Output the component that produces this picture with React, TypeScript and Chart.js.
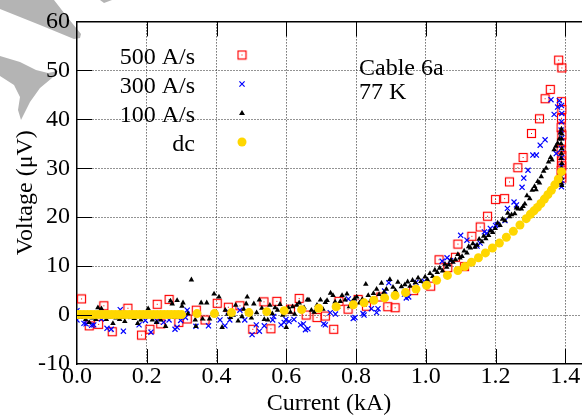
import React, { useEffect, useRef } from 'react';
import { Chart, registerables } from 'chart.js';

Chart.register(...registerables);

const FONT = '"Liberation Serif", "Times New Roman", serif';

const seriesLabels = ['500 A/s', '300 A/s', '100 A/s', 'dc'];
const annotationLines = ['Cable 6a', '77 K'];
const xTitle = 'Current (kA)';
const yTitle = 'Voltage (\u03bcV)';
const xTickValues = [0.0, 0.2, 0.4, 0.6, 0.8, 1.0, 1.2, 1.4];
const yTickValues = [-10, 0, 10, 20, 30, 40, 50, 60];

const rate500: number[][] = [
  [0.013, 3.3], [0.035, -2.2], [0.062, -1.9], [0.077, 1.9], [0.101, -3.4], [0.146, 1.4], [0.185, -4.1],
  [0.209, -2.9], [0.230, 2.2], [0.240, -1.8], [0.264, 3.2], [0.292, -1.5], [0.316, -0.8], [0.342, 1.0],
  [0.367, -1.0], [0.402, 2.4], [0.434, 1.6], [0.467, 1.9], [0.504, -2.9], [0.536, 2.7], [0.556, -2.8],
  [0.573, 2.8], [0.612, 1.2], [0.637, 3.4], [0.657, 0.0], [0.688, -0.5], [0.712, -0.2], [0.736, -2.9],
  [0.751, 2.8], [0.777, 1.2], [0.806, 3.2], [0.830, 1.8], [0.871, 3.7], [0.891, 1.7], [0.912, 1.5],
  [0.965, 5.0], [1.014, 5.9], [1.038, 11.3], [1.063, 9.7], [1.085, 11.8], [1.092, 14.5], [1.111, 9.9],
  [1.132, 16.1], [1.156, 18.0], [1.177, 20.2], [1.200, 23.6], [1.226, 23.8], [1.240, 27.2], [1.264, 30.1],
  [1.279, 32.2], [1.303, 37.1], [1.326, 40.1], [1.342, 44.2], [1.357, 46.1], [1.381, 52.1], [1.390, 50.5],
  [1.389, 43.6], [1.390, 42.0], [1.389, 40.2], [1.388, 38.3], [1.390, 36.8], [1.389, 35.2], [1.388, 33.9],
  [1.390, 32.6], [1.389, 31.5], [1.390, 30.5], [1.388, 29.6], [1.389, 28.8], [1.390, 28.0],
];

const rate300: number[][] = [
  [0.000, 0.9], [0.000, -1.0], [0.020, -1.7], [0.026, -1.8], [0.042, -2.1], [0.048, -2.0], [0.070, -0.8],
  [0.086, -2.7], [0.098, -2.9], [0.124, 1.1], [0.133, -3.3], [0.155, -0.3], [0.178, -2.0], [0.196, -1.1],
  [0.212, -3.5], [0.229, -1.2], [0.248, -1.5], [0.264, -1.0], [0.281, -2.9], [0.287, -2.5], [0.297, -1.1],
  [0.311, -0.5], [0.316, 1.0], [0.341, -2.3], [0.377, -2.2], [0.396, 0.3], [0.410, -1.0], [0.424, -2.2],
  [0.434, 0.7], [0.438, -1.0], [0.467, 1.0], [0.481, -1.0], [0.502, -4.0], [0.514, -2.0], [0.523, -3.3],
  [0.537, -2.2], [0.561, -1.0], [0.564, -0.3], [0.585, -2.0], [0.594, -1.5], [0.599, -0.9], [0.608, -1.3],
  [0.622, -0.9], [0.641, -2.0], [0.649, -1.8], [0.655, -3.0], [0.662, -2.8], [0.707, -1.8], [0.712, -2.0],
  [0.726, 0.5], [0.741, 0.2], [0.778, 3.3], [0.792, -0.7], [0.797, -0.5], [0.820, 0.3], [0.823, 0.0],
  [0.844, 1.3], [0.863, 1.3], [0.859, 0.5], [0.882, 4.9], [0.894, 6.6], [0.939, 4.3], [0.944, 3.5],
  [0.951, 3.7], [0.972, 6.7], [0.996, 6.9], [1.047, 11.0], [1.061, 11.7], [1.071, 11.1], [1.100, 16.3],
  [1.118, 15.3], [1.147, 14.1], [1.156, 14.7], [1.168, 17.0], [1.175, 16.7], [1.185, 17.7], [1.200, 18.3],
  [1.205, 18.5], [1.227, 19.3], [1.234, 21.8], [1.253, 23.1], [1.260, 22.5], [1.276, 26.1], [1.281, 28.0],
  [1.293, 29.6], [1.307, 32.7], [1.317, 32.7], [1.328, 34.7], [1.342, 35.8], [1.359, 44.0], [1.368, 41.0],
  [1.374, 33.0], [1.378, 42.5], [1.383, 43.8],
  [1.389, 42.8], [1.390, 41.2], [1.389, 39.5], [1.388, 37.8], [1.390, 36.2], [1.389, 34.0], [1.390, 32.2],
  [1.389, 30.4], [1.388, 29.0], [1.390, 27.5], [1.389, 26.2],
];

const rate100: number[][] = [
  [0.010, -0.5], [0.018, -0.2], [0.025, -0.9], [0.035, -1.5], [0.045, -0.6], [0.054, -0.9], [0.060, 1.5],
  [0.070, 1.3], [0.078, -0.3], [0.084, -0.9], [0.095, -0.4], [0.103, -1.7], [0.112, -0.6], [0.122, -0.9],
  [0.133, -0.5], [0.137, -1.3], [0.143, 0.0], [0.155, -0.4], [0.164, -0.7], [0.174, -1.7], [0.183, -1.0],
  [0.194, -0.3], [0.204, 1.3], [0.216, -1.0], [0.228, -1.5], [0.240, -1.0], [0.246, -0.2], [0.254, -2.3],
  [0.268, 2.9], [0.273, 2.3], [0.280, -0.5], [0.287, 3.0], [0.301, 1.8], [0.304, 2.5], [0.318, 0.3],
  [0.328, 7.2], [0.339, -1.0], [0.341, -2.3], [0.348, 0.2], [0.356, 2.5], [0.360, -0.8], [0.372, 2.5],
  [0.380, -0.8], [0.393, 4.3], [0.400, 0.5], [0.407, 3.7], [0.416, -2.5],
  [0.425, 1.0], [0.432, 0.2], [0.440, -0.5], [0.448, 0.0], [0.455, 2.0], [0.462, -1.2], [0.473, -0.3],
  [0.478, 1.2], [0.485, 2.3], [0.488, 3.7], [0.495, 0.8], [0.500, -0.6], [0.507, 2.3], [0.515, 0.5],
  [0.523, 3.1], [0.530, 1.4], [0.537, -0.9], [0.542, 0.8], [0.547, -1.0], [0.553, 2.0], [0.560, 0.3],
  [0.568, 1.5], [0.575, 1.0], [0.582, 2.2], [0.590, 0.0], [0.600, -2.5], [0.606, 1.5], [0.612, 0.6],
  [0.618, 1.7], [0.624, 0.2], [0.630, 2.0], [0.637, 2.5], [0.644, 0.8], [0.651, 1.5], [0.660, 3.1],
  [0.665, 3.1], [0.672, 1.0], [0.680, 0.6], [0.688, 2.0], [0.698, 3.1], [0.705, 1.2], [0.712, 2.6],
  [0.717, 3.0], [0.727, 4.5], [0.734, 4.0], [0.740, 2.7], [0.748, 1.6], [0.755, 2.8], [0.760, 4.0],
  [0.769, 3.1], [0.774, 4.3], [0.781, 1.7], [0.790, 2.8], [0.796, 3.3], [0.802, 3.7], [0.810, 2.5],
  [0.818, 3.2], [0.828, 6.3], [0.835, 4.0], [0.842, 3.0], [0.850, 4.4],
  [0.859, 5.3], [0.866, 4.2], [0.873, 6.5], [0.880, 4.6], [0.887, 5.3], [0.897, 7.3], [0.906, 5.7],
  [0.913, 5.0], [0.920, 6.7], [0.930, 5.8], [0.940, 6.2], [0.948, 6.8], [0.955, 5.9], [0.962, 7.1],
  [0.970, 6.6], [0.978, 7.6], [0.986, 6.9], [0.998, 7.8], [1.005, 7.2], [1.012, 8.5], [1.020, 7.9],
  [1.026, 9.2], [1.033, 8.7], [1.040, 9.6], [1.048, 9.0], [1.055, 10.4], [1.060, 9.8], [1.066, 10.3],
  [1.072, 11.2], [1.078, 10.8], [1.085, 11.3], [1.092, 12.4], [1.098, 11.7], [1.104, 12.0], [1.110, 13.1],
  [1.118, 12.7], [1.123, 14.0], [1.128, 13.7], [1.135, 14.6], [1.141, 13.9], [1.147, 14.3], [1.153, 15.5],
  [1.161, 15.0], [1.166, 16.1], [1.172, 15.6], [1.180, 16.3], [1.186, 17.2], [1.192, 16.9], [1.199, 17.7],
  [1.206, 18.8], [1.213, 18.3], [1.220, 19.6], [1.227, 19.3], [1.235, 20.8], [1.240, 20.1], [1.246, 20.5],
  [1.255, 20.7], [1.260, 21.9], [1.265, 21.7], [1.274, 21.7], [1.279, 22.2], [1.284, 22.7], [1.290, 24.4],
  [1.298, 23.8], [1.305, 25.5], [1.312, 26.3], [1.316, 25.6], [1.321, 27.3], [1.326, 27.0], [1.331, 28.3],
  [1.338, 29.4], [1.345, 30.0], [1.352, 31.3], [1.358, 32.2], [1.362, 31.7], [1.368, 33.8], [1.373, 34.5],
  [1.378, 35.1], [1.383, 36.0], [1.386, 37.2],
  [1.389, 38.0], [1.390, 37.0], [1.389, 36.0], [1.388, 35.0], [1.390, 34.0], [1.389, 33.0], [1.388, 32.0],
  [1.390, 31.0], [1.389, 30.0], [1.390, 29.0], [1.389, 28.0], [1.388, 27.0], [1.390, 26.5],
];

const dcSeries: number[][] = [
  [0.00, 0.1], [0.01, 0.1], [0.02, 0.1], [0.03, 0.1], [0.04, 0.1], [0.05, 0.1], [0.06, 0.1], [0.07, 0.1],
  [0.08, 0.1], [0.09, 0.1], [0.10, 0.1], [0.11, 0.1], [0.12, 0.1], [0.13, 0.1], [0.14, 0.1], [0.15, 0.1],
  [0.16, 0.1], [0.17, 0.1], [0.18, 0.1], [0.19, 0.1], [0.20, 0.1], [0.21, 0.1], [0.22, 0.1], [0.23, 0.1],
  [0.24, 0.1], [0.25, 0.1], [0.26, 0.1], [0.27, 0.1], [0.28, 0.1], [0.29, 0.1], [0.30, 0.1],
  [0.344, 0.3], [0.394, 0.3], [0.443, 0.5], [0.493, 0.5], [0.544, 0.7], [0.594, 0.9], [0.644, 1.1],
  [0.693, 1.4], [0.743, 1.7], [0.792, 2.1], [0.823, 2.5], [0.851, 3.0], [0.882, 3.5], [0.912, 4.0],
  [0.942, 4.6], [0.972, 5.3], [1.002, 6.1], [1.031, 7.1], [1.062, 8.1], [1.092, 9.1], [1.112, 9.9],
  [1.131, 10.8], [1.151, 11.7], [1.171, 12.7], [1.191, 13.7], [1.211, 14.7], [1.231, 15.9], [1.251, 17.1],
  [1.270, 18.4], [1.288, 19.7], [1.300, 20.6], [1.310, 21.3], [1.320, 22.0], [1.330, 22.8], [1.340, 23.7],
  [1.350, 24.6], [1.360, 25.5], [1.370, 26.6], [1.380, 27.8], [1.389, 29.3],
];

const RED = 'rgb(255,0,0)';
const BLUE = 'rgb(0,0,255)';
const BLACK = 'rgb(0,0,0)';
const GOLD = 'rgb(255,215,0)';

function makeSquare(): HTMLCanvasElement {
  const c = document.createElement('canvas');
  c.width = 11;
  c.height = 11;
  const g = c.getContext('2d')!;
  g.strokeStyle = RED;
  g.lineWidth = 1.2;
  g.strokeRect(1.5, 1.5, 8, 8);
  g.fillStyle = RED;
  g.fillRect(5, 5, 1, 1);
  return c;
}

const toXY = (arr: number[][]) => arr.map(([x, y]) => ({ x, y }));

export default function App() {
  const ref = useRef<HTMLCanvasElement | null>(null);
  useEffect(() => {
    document.body.style.margin = '0';
    const canvas = ref.current;
    if (!canvas) return;
    const square = makeSquare();

    const drawMarker = (ctx: CanvasRenderingContext2D, i: number, x: number, y: number) => {
      ctx.save();
      if (i === 0) {
        ctx.drawImage(square, x - 5.5, y - 5.5);
      } else if (i === 1) {
        ctx.strokeStyle = BLUE;
        ctx.lineWidth = 1.2;
        const r = 2.6;
        ctx.beginPath();
        ctx.moveTo(x - r, y - r); ctx.lineTo(x + r, y + r);
        ctx.moveTo(x + r, y - r); ctx.lineTo(x - r, y + r);
        ctx.stroke();
      } else if (i === 2) {
        ctx.fillStyle = BLACK;
        ctx.beginPath();
        ctx.moveTo(x, y - 3);
        ctx.lineTo(x + 3, y + 2);
        ctx.lineTo(x - 3, y + 2);
        ctx.closePath();
        ctx.fill();
      } else {
        ctx.fillStyle = GOLD;
        ctx.beginPath();
        ctx.arc(x, y, 4.5, 0, Math.PI * 2);
        ctx.fill();
      }
      ctx.restore();
    };

    const decor = {
      id: 'decor',
      beforeDraw(chart: any) {
        const ctx = chart.ctx as CanvasRenderingContext2D;
        ctx.save();
        ctx.fillStyle = 'rgb(180,180,180)';
        ctx.beginPath();
        ctx.moveTo(0, 0); ctx.lineTo(54, 0); ctx.lineTo(68, 18); ctx.lineTo(81, 34);
        ctx.lineTo(80, 38); ctx.lineTo(74, 39); ctx.lineTo(40, 25); ctx.lineTo(0, 9);
        ctx.closePath();
        ctx.fill();
        ctx.beginPath();
        ctx.moveTo(100, 0); ctx.lineTo(112, 0); ctx.lineTo(104, 3);
        ctx.closePath();
        ctx.fill();
        ctx.beginPath();
        ctx.moveTo(0, 56); ctx.lineTo(20, 62); ctx.lineTo(36, 70); ctx.lineTo(48, 73);
        ctx.lineTo(58, 71); ctx.lineTo(52, 78); ctx.lineTo(40, 88); ctx.lineTo(30, 102);
        ctx.lineTo(21, 120); ctx.lineTo(18, 110); ctx.lineTo(20, 97); ctx.lineTo(14, 85);
        ctx.lineTo(0, 76);
        ctx.closePath();
        ctx.fill();
        ctx.restore();
      },
      afterDraw(chart: any) {
        const ctx = chart.ctx as CanvasRenderingContext2D;
        const a = chart.chartArea;
        const xs = chart.scales.x;
        const ys = chart.scales.y;
        ctx.save();
        ctx.strokeStyle = '#000';
        ctx.lineWidth = 1;
        ctx.beginPath();
        xs.ticks.forEach((t: any) => {
          if (t.value <= xs.min) return;
          const px = Math.round(xs.getPixelForValue(t.value)) + 0.5;
          ctx.moveTo(px, a.bottom); ctx.lineTo(px, a.bottom - 15);
          ctx.moveTo(px, a.top); ctx.lineTo(px, a.top + 15);
        });
        ys.ticks.forEach((t: any) => {
          if (t.value <= ys.min || t.value >= ys.max) return;
          const py = Math.round(ys.getPixelForValue(t.value)) + 0.5;
          ctx.moveTo(a.left, py); ctx.lineTo(a.left + 15, py);
        });
        ctx.stroke();

        ctx.fillStyle = '#000';
        ctx.font = '24px ' + FONT;
        ctx.textBaseline = 'alphabetic';
        ctx.textAlign = 'right';
        const baseY = 64;
        seriesLabels.forEach((lab, i) => {
          const by = baseY + i * 29;
          ctx.fillText(lab, 195, by);
          drawMarker(ctx, i, 242, by - 9);
        });
        ctx.textAlign = 'left';
        annotationLines.forEach((s, i) => ctx.fillText(s, 359, 75 + i * 24));
        ctx.restore();
      },
    };

    const gridColor = (lo: number, hi: number) => (c: any) =>
      c.tick && c.tick.value > lo + 1e-9 && c.tick.value < hi - 1e-9 ? 'rgba(0,0,0,0.85)' : 'rgba(0,0,0,0)';

    const chart = new Chart(canvas, {
      type: 'scatter',
      data: {
        datasets: [
          { label: seriesLabels[0], data: toXY(rate500), pointStyle: square as any, pointRadius: 5, order: 4 },
          { label: seriesLabels[1], data: toXY(rate300), pointStyle: 'crossRot', pointRadius: 3.6,
            borderColor: BLUE, backgroundColor: BLUE, pointBorderWidth: 1.2, order: 3 },
          { label: seriesLabels[2], data: toXY(rate100), pointStyle: 'triangle', pointRadius: 3.2,
            borderColor: BLACK, backgroundColor: BLACK, pointBorderWidth: 0, order: 2 },
          { label: seriesLabels[3], data: toXY(dcSeries), pointStyle: 'circle', pointRadius: 4.5,
            borderColor: GOLD, backgroundColor: GOLD, pointBorderWidth: 0, order: 1 },
        ],
      },
      options: {
        animation: false,
        responsive: false,
        maintainAspectRatio: false,
        events: [],
        layout: { padding: 0 },
        plugins: { legend: { display: false }, tooltip: { enabled: false } },
        scales: {
          x: {
            type: 'linear',
            position: 'bottom',
            min: 0,
            max: 1.445,
            afterBuildTicks: (s: any) => { s.ticks = xTickValues.map((v) => ({ value: v })); },
            afterFit: (s: any) => { s.height = 52; },
            ticks: {
              color: '#000',
              font: { family: FONT, size: 24 },
              padding: -2,
              maxRotation: 0,
              autoSkip: false,
              callback: (v: any) => Number(v).toFixed(1),
            },
            grid: { color: gridColor(0, 1.445), lineWidth: 1, drawTicks: false },
            border: { display: true, color: '#000', width: 1.5, dash: [1, 2] },
            title: {
              display: true,
              text: xTitle,
              color: '#000',
              font: { family: FONT, size: 24, lineHeight: 1 },
              padding: { top: 0, bottom: 0 },
            },
          },
          x2: {
            type: 'linear',
            position: 'top',
            min: 0,
            max: 1.445,
            afterFit: (s: any) => { s.height = 15; },
            ticks: { display: false },
            grid: { display: false, drawTicks: false },
            border: { display: true, color: '#000', width: 1.5 },
          },
          y: {
            type: 'linear',
            position: 'left',
            min: -10,
            max: 60,
            afterBuildTicks: (s: any) => { s.ticks = yTickValues.map((v) => ({ value: v })); },
            afterFit: (s: any) => { s.width = 77; },
            ticks: {
              color: '#000',
              font: { family: FONT, size: 24 },
              padding: 7,
              autoSkip: false,
            },
            grid: { color: gridColor(-10, 60), lineWidth: 1, drawTicks: false },
            border: { display: true, color: '#000', width: 1.5, dash: [1, 2] },
            title: {
              display: true,
              text: yTitle,
              color: '#000',
              font: { family: FONT, size: 24, lineHeight: 1 },
              padding: { top: 14, bottom: 0 },
            },
          },
        },
      },
      plugins: [decor],
    });
    return () => chart.destroy();
  }, []);

  return (
    <div style={{ width: 587, height: 416, background: '#fff' }}>
      <canvas ref={ref} width={587} height={416} style={{ display: 'block' }} />
    </div>
  );
}
